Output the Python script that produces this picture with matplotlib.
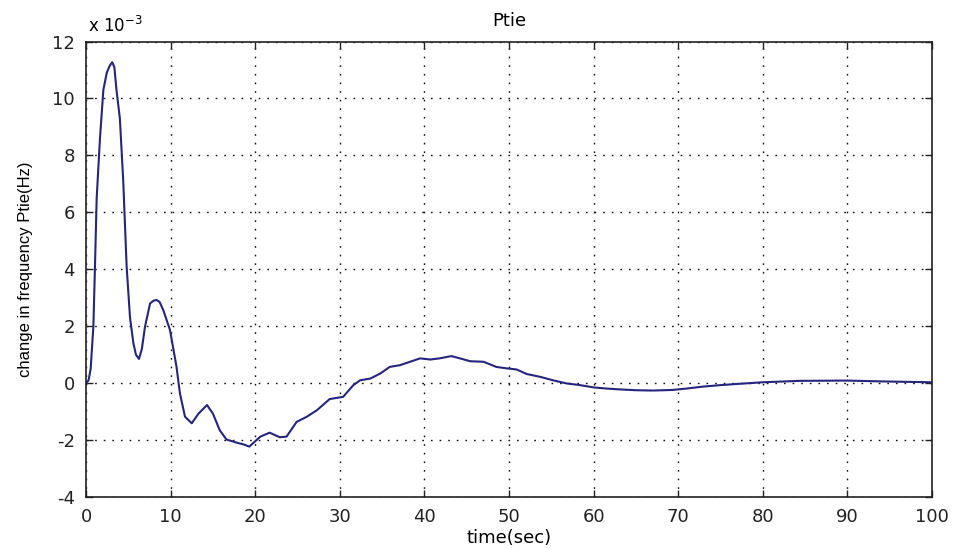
import numpy as np
import matplotlib
matplotlib.use('Agg')
import matplotlib.pyplot as plt
from matplotlib.ticker import FuncFormatter

# time (sec) and tie-line deviation, in units of 1e-3
t = [0, 0.3, 0.55, 0.87, 1.05, 1.26, 1.65, 2.05, 2.45, 2.8, 3.1, 3.35, 3.6, 4.0,
     4.4, 4.8, 5.2, 5.6, 5.9, 6.26, 6.6, 6.97, 7.57, 8.0, 8.35, 8.7, 9.14, 9.93,
     10.7, 11.1, 11.7, 12.5, 13.3, 14.3, 15.0, 15.8, 16.6, 17.8, 18.6, 19.3, 20.6,
     21.7, 22.9, 23.7, 24.9, 26.1, 27.3, 28.8, 30.4, 31.6, 32.4, 33.6, 34.8, 35.9,
     37.1, 38.3, 39.5, 40.7, 41.8, 43.2, 44.2, 45.4, 47.0, 48.5, 49.7, 50.9, 52.1,
     53.7, 55.2, 56.8, 58.4, 60.0, 61.5, 63.1, 65.1, 67.0, 69.3, 71.0, 73.0, 75.0,
     76.9, 80.0, 84.4, 89.9, 94.2, 100]
ptie = [0, 0.1, 0.5, 2.0, 4.0, 6.5, 8.6, 10.3, 10.9, 11.15, 11.27, 11.1, 10.3, 9.3,
        7.1, 4.1, 2.3, 1.4, 1.0, 0.85, 1.2, 1.98, 2.8, 2.9, 2.92, 2.85, 2.56, 1.86,
        0.57, -0.36, -1.18, -1.41, -1.07, -0.77, -1.07, -1.65, -1.98, -2.09, -2.15,
        -2.23, -1.88, -1.74, -1.9, -1.88, -1.36, -1.18, -0.95, -0.56, -0.48, -0.07,
        0.1, 0.16, 0.34, 0.57, 0.63, 0.75, 0.87, 0.83, 0.87, 0.95, 0.87, 0.77, 0.75,
        0.57, 0.52, 0.48, 0.32, 0.22, 0.1, -0.01, -0.07, -0.15, -0.19, -0.22, -0.25,
        -0.26, -0.24, -0.19, -0.12, -0.07, -0.03, 0.03, 0.08, 0.09, 0.06, 0.03]

xticks = np.arange(0, 101, 10)
yticks = np.arange(-4, 13, 2)

t = np.array(t)
ptie = np.array(ptie) * 1e-3

fig = plt.figure(figsize=(9.59, 5.49), dpi=100)
ax = fig.add_axes([0.0897, 0.0947, 0.8821, 0.8297])

ax.plot(t, ptie, color='#25257e', lw=1.5)

ax.set_xlim(0, 100)
ax.set_ylim(-4e-3, 12e-3)
ax.set_xticks(xticks)
ax.set_yticks(yticks * 1e-3)
ax.yaxis.set_major_formatter(FuncFormatter(lambda y, _: '%g' % round(y * 1e3, 6)))

ax.grid(True, color='#111111', linestyle=(0, (1.2, 5)), lw=1.0)
ax.tick_params(direction='in', length=5, width=1, top=True, right=True,
               labelsize=13, pad=8, colors='#222222')
for s in ax.spines.values():
    s.set_linewidth(1.2)
    s.set_color('#222222')

ax.set_title('Ptie', fontsize=13, pad=11)
ax.set_xlabel('time(sec)', fontsize=13, labelpad=2)
ax.set_ylabel('change in frequency Ptie(Hz)', fontsize=12,
              family=['Liberation Sans', 'DejaVu Sans'], labelpad=14)
ax.text(0.002, 1.012, 'x 10$^{-3}$', transform=ax.transAxes, fontsize=12,
        ha='left', va='bottom')

fig.savefig('out.png', dpi=100)
